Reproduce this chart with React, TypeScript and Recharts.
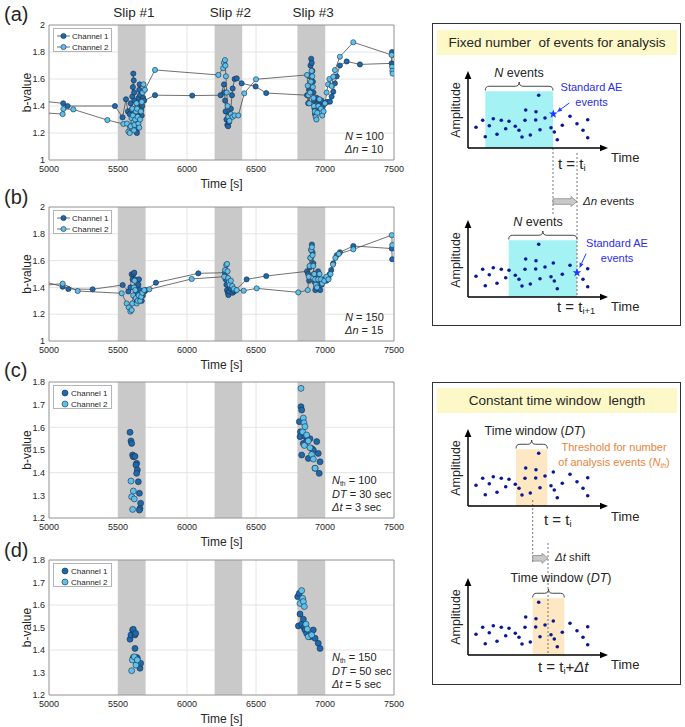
import React from "react";
import {
  CartesianGrid,
  ReferenceArea,
  ReferenceDot,
  ReferenceLine,
  Scatter,
  ScatterChart,
  XAxis,
  YAxis,
} from "recharts";

const FONT = '"Liberation Sans", Arial, Helvetica, sans-serif';
const INK = "#262626";

// ---- left panels: b-value vs time ----
const TIME_DOMAIN: [number, number] = [5000, 7500];
const TIME_TICKS = [5000, 5500, 6000, 6500, 7000, 7500];
const B_TICKS_WIDE = [1, 1.2, 1.4, 1.6, 1.8, 2];
const B_TICKS_NARROW = [1.2, 1.3, 1.4, 1.5, 1.6, 1.7, 1.8];
const SLIPS: [number, number][] = [
  [5500, 5700],
  [6200, 6400],
  [6800, 7000],
];
const SLIP_LABELS = ["Slip #1", "Slip #2", "Slip #3"];
const CHANNELS = [
  { name: "Channel 1", fill: "#1c69ad" },
  { name: "Channel 2", fill: "#5dc1ec" },
];

// (a) N = 100, Δn = 10
const A_CH1 = [
  [4960, 1.435], [5103, 1.42], [5135, 1.4], [5478, 1.4], [5533, 1.316], [5558, 1.45], [5572, 1.36],
  [5585, 1.34], [5592, 1.42], [5598, 1.37], [5604, 1.47], [5608, 1.54], [5611, 1.64], [5614, 1.59],
  [5617, 1.5], [5620, 1.44], [5623, 1.35], [5627, 1.28], [5630, 1.24], [5634, 1.21], [5637, 1.2],
  [5640, 1.26], [5644, 1.33], [5647, 1.4], [5650, 1.46], [5654, 1.52], [5657, 1.56], [5660, 1.48],
  [5664, 1.42], [5668, 1.37], [5672, 1.33], [5676, 1.4], [5682, 1.46], [5690, 1.44], [5768, 1.48],
  [6038, 1.477], [6244, 1.48], [6268, 1.56], [6272, 1.5], [6276, 1.44], [6280, 1.36], [6286, 1.3],
  [6292, 1.26], [6298, 1.25], [6304, 1.28], [6310, 1.34], [6318, 1.38], [6326, 1.48], [6331, 1.53],
  [6345, 1.6], [6360, 1.605], [6396, 1.568], [6497, 1.545], [6574, 1.496], [6870, 1.48], [6878, 1.42],
  [6884, 1.52], [6890, 1.62], [6895, 1.7], [6900, 1.75], [6904, 1.72], [6908, 1.66], [6912, 1.58],
  [6916, 1.5], [6920, 1.44], [6924, 1.38], [6928, 1.34], [6932, 1.36], [6936, 1.4], [6940, 1.46],
  [6944, 1.42], [6950, 1.38], [6958, 1.44], [6966, 1.41], [6975, 1.44], [6985, 1.4], [7000, 1.42],
  [7015, 1.43], [7036, 1.432], [7048, 1.47], [7060, 1.506], [7072, 1.568], [7085, 1.62], [7108, 1.7],
  [7157, 1.73], [7253, 1.708], [7483, 1.716], [7486, 1.8], [7488, 1.78],
];
const A_CH2 = [
  [4960, 1.35], [5099, 1.34], [5104, 1.378], [5176, 1.375], [5423, 1.296], [5539, 1.267], [5565, 1.27],
  [5575, 1.21], [5585, 1.2], [5592, 1.25], [5598, 1.31], [5604, 1.38], [5608, 1.33], [5612, 1.28],
  [5616, 1.22], [5620, 1.26], [5625, 1.3], [5630, 1.36], [5634, 1.42], [5638, 1.38], [5642, 1.32],
  [5648, 1.27], [5654, 1.24], [5660, 1.3], [5666, 1.36], [5672, 1.43], [5678, 1.5], [5685, 1.56],
  [5695, 1.52], [5768, 1.667], [6227, 1.63], [6262, 1.68], [6268, 1.72], [6275, 1.74], [6278, 1.7],
  [6282, 1.62], [6288, 1.5], [6294, 1.4], [6300, 1.32], [6308, 1.29], [6318, 1.34], [6330, 1.32],
  [6345, 1.33], [6372, 1.33], [6415, 1.494], [6500, 1.598], [6870, 1.63], [6875, 1.55], [6880, 1.48],
  [6886, 1.42], [6892, 1.5], [6898, 1.58], [6903, 1.66], [6908, 1.62], [6912, 1.54], [6916, 1.46],
  [6920, 1.4], [6926, 1.36], [6932, 1.32], [6938, 1.3], [6944, 1.35], [6952, 1.4], [6960, 1.45],
  [6970, 1.38], [6980, 1.33], [6990, 1.36], [7000, 1.42], [7012, 1.5], [7022, 1.56], [7032, 1.6],
  [7048, 1.548], [7060, 1.617], [7072, 1.666], [7108, 1.765], [7205, 1.872], [7483, 1.778],
  [7486, 1.69], [7488, 1.66], [7490, 1.64],
];

// (b) N = 150, Δn = 15
const B_CH1 = [
  [4960, 1.445], [5099, 1.405], [5140, 1.388], [5316, 1.386], [5534, 1.418], [5575, 1.37], [5590, 1.4],
  [5599, 1.498], [5606, 1.46], [5612, 1.5], [5618, 1.51], [5622, 1.46], [5626, 1.4], [5630, 1.34],
  [5634, 1.29], [5638, 1.3], [5642, 1.36], [5648, 1.42], [5652, 1.46], [5658, 1.38], [5664, 1.33],
  [5672, 1.3], [5680, 1.34], [5692, 1.37], [5703, 1.38], [5775, 1.435], [6082, 1.505], [6275, 1.51],
  [6280, 1.46], [6286, 1.42], [6290, 1.38], [6296, 1.36], [6300, 1.343], [6306, 1.37], [6312, 1.4],
  [6320, 1.39], [6330, 1.36], [6342, 1.37], [6352, 1.38], [6432, 1.46], [6574, 1.485], [6870, 1.52],
  [6878, 1.5], [6885, 1.45], [6890, 1.55], [6895, 1.62], [6900, 1.68], [6905, 1.72], [6910, 1.66],
  [6915, 1.58], [6920, 1.5], [6926, 1.44], [6930, 1.38], [6936, 1.4], [6942, 1.47], [6950, 1.52],
  [6958, 1.45], [6965, 1.38], [6975, 1.42], [6990, 1.46], [7010, 1.45], [7025, 1.47], [7035, 1.5],
  [7045, 1.53], [7060, 1.58], [7085, 1.64], [7108, 1.662], [7205, 1.709], [7484, 1.69], [7487, 1.61],
];
const B_CH2 = [
  [4960, 1.415], [5099, 1.428], [5208, 1.373], [5527, 1.356], [5563, 1.28], [5578, 1.25], [5590, 1.22],
  [5599, 1.231], [5604, 1.28], [5610, 1.34], [5616, 1.4], [5620, 1.45], [5625, 1.38], [5630, 1.32],
  [5636, 1.28], [5642, 1.3], [5650, 1.34], [5660, 1.3], [5668, 1.33], [5676, 1.36], [5690, 1.38],
  [5727, 1.386], [6034, 1.463], [6270, 1.48], [6276, 1.53], [6284, 1.567], [6290, 1.575], [6294, 1.52],
  [6298, 1.47], [6304, 1.44], [6310, 1.42], [6318, 1.45], [6328, 1.41], [6340, 1.39], [6360, 1.38],
  [6411, 1.375], [6505, 1.393], [6806, 1.363], [6875, 1.38], [6882, 1.48], [6888, 1.56], [6894, 1.62],
  [6900, 1.68], [6905, 1.7], [6910, 1.64], [6915, 1.56], [6922, 1.5], [6928, 1.46], [6934, 1.42],
  [6942, 1.4], [6950, 1.46], [6960, 1.5], [6970, 1.46], [6980, 1.43], [6995, 1.45], [7010, 1.48],
  [7025, 1.46], [7040, 1.5], [7058, 1.57], [7075, 1.62], [7100, 1.65], [7205, 1.684], [7484, 1.79],
  [7487, 1.716],
];

// (c) Nth = 100, DT = 30 s, Δt = 3 s
const C_CH1 = [
  [5587, 1.578], [5594, 1.54], [5599, 1.529], [5606, 1.478], [5611, 1.47], [5623, 1.472], [5635, 1.441],
  [5630, 1.434], [5640, 1.412], [5635, 1.397], [5647, 1.36], [5655, 1.309], [5664, 1.265], [5659, 1.242],
  [5655, 1.235], [6826, 1.691], [6831, 1.676], [6814, 1.625], [6822, 1.58], [6819, 1.559], [6831, 1.478],
  [6843, 1.529], [6855, 1.56], [6867, 1.537], [6879, 1.463], [6891, 1.55], [6903, 1.507], [6915, 1.5],
  [6928, 1.419], [6940, 1.537], [6951, 1.485], [6958, 1.397], [6964, 1.448],
];
const C_CH2 = [
  [5594, 1.363], [5599, 1.294], [5611, 1.319], [5606, 1.238], [5618, 1.284], [6826, 1.772], [6838, 1.58],
  [6843, 1.641], [6848, 1.62], [6855, 1.603], [6867, 1.566], [6879, 1.54], [6891, 1.51], [6903, 1.48],
  [6915, 1.46], [6928, 1.42], [6850, 1.52],
];

// (d) Nth = 150, DT = 50 s, Δt = 5 s
const D_CH1 = [
  [5587, 1.448], [5594, 1.467], [5606, 1.489], [5611, 1.492], [5623, 1.467], [5628, 1.474], [5623, 1.407],
  [5611, 1.367], [5635, 1.367], [5640, 1.363], [5647, 1.337], [5659, 1.319], [5664, 1.341], [6802, 1.637],
  [6814, 1.652], [6807, 1.507], [6819, 1.56], [6831, 1.515], [6843, 1.537], [6848, 1.5], [6855, 1.489],
  [6867, 1.474], [6891, 1.459], [6915, 1.489], [6928, 1.452], [6951, 1.43], [6964, 1.407],
];
const D_CH2 = [
  [5599, 1.308], [5604, 1.356], [5618, 1.37], [5630, 1.333], [5640, 1.356], [6819, 1.607], [6831, 1.664],
  [6838, 1.63], [6843, 1.615], [6850, 1.593], [6862, 1.515], [6872, 1.493], [6879, 1.459], [6903, 1.467],
];

// ---- right schematics: AE amplitude vs time (arbitrary units) ----
const AE_TIME = [
  8, 14.7, 17.3, 21.3, 25.3, 29, 33.3, 37.7, 41, 47.3, 51, 54, 57, 57.7, 62.3, 67.7, 68, 70.7, 72, 77,
  83, 85.3, 86.3, 89.3, 94.3, 102, 109, 115, 119.7, 119.7,
];
const AE_AMP = [
  20.7, 27.7, 11.3, 22.3, 29.3, 13.7, 27.7, 19.3, 26.7, 21.7, 17.7, 11, 27.7, 38, 13, 28, 36.3, 52.7,
  18.3, 30, 20.3, 34, 16, 8.3, 22.7, 31.7, 24.3, 17.7, 28.3, 10.3,
];

const toPts = (arr: number[][]) => arr.map(([t, b]) => ({ t, b }));

const marker = (fill: string, r: number) => (p: any) =>
  p.cx == null ? <g /> : <circle cx={p.cx} cy={p.cy} r={r} fill={fill} stroke="#1b2d44" strokeWidth={0.6} />;

function Txt({ x, y, a = "start", size = 12, color = INK, rot, children, style }: any) {
  const tx = a === "middle" ? "-50%" : a === "end" ? "-100%" : "0";
  return (
    <div
      style={{
        position: "absolute",
        left: x,
        top: y,
        transform: `translate(${tx},-50%)${rot ? ` rotate(${rot}deg)` : ""}`,
        fontSize: size,
        color,
        whiteSpace: "nowrap",
        lineHeight: 1,
        ...style,
      }}
    >
      {children}
    </div>
  );
}

const Sub = ({ children }: any) => (
  <sub style={{ fontSize: "0.62em", verticalAlign: "-0.3em", lineHeight: 0 }}>{children}</sub>
);

function BPanel({ tag, top, plotH, ch1, ch2, bDomain, bTicks, joined, r, notes, noteX, slipLabels }: any) {
  const H = 25 + plotH + 36;
  const series = [toPts(ch1), toPts(ch2)];
  const plotBottom = 25 + plotH;
  const px = (t: number) => 49 + ((t - 5000) / 2500) * 345;
  return (
    <div style={{ position: "absolute", left: 0, top, width: 420, height: H }}>
      <ScatterChart width={420} height={H} margin={{ top: 25, right: 26, bottom: 6, left: 0 }}>
        <CartesianGrid stroke="#e4e4e4" />
        <XAxis
          type="number"
          dataKey="t"
          domain={TIME_DOMAIN}
          ticks={TIME_TICKS}
          allowDataOverflow
          axisLine={false}
          tickLine={false}
          tickSize={2}
          tickMargin={3.5}
          height={30}
          tick={{ fontSize: 9, fill: INK }}
          label={{ value: "Time [s]", position: "insideBottom", offset: 2, fontSize: 12, fill: INK }}
        />
        <YAxis
          type="number"
          dataKey="b"
          domain={bDomain}
          ticks={bTicks}
          allowDataOverflow
          axisLine={false}
          tickLine={false}
          tickSize={2}
          tickMargin={2}
          width={49}
          tick={{ fontSize: 9, fill: INK }}
          label={{
            value: "b-value",
            angle: -90,
            position: "insideLeft",
            offset: 27,
            fontSize: 12,
            fill: INK,
            style: { textAnchor: "middle" },
          }}
        />
        {SLIPS.map(([a, b]) => (
          <ReferenceArea key={a} x1={a} x2={b} y1={bDomain[0]} y2={bDomain[1]} fill="#c9c9c9" fillOpacity={1} stroke="none" />
        ))}
        {series.map((d, i) => (
          <Scatter
            key={CHANNELS[i].name}
            name={CHANNELS[i].name}
            data={d}
            line={joined ? { stroke: "#4d4d4d", strokeWidth: 0.8 } : undefined}
            shape={marker(CHANNELS[i].fill, r)}
            isAnimationActive={false}
          />
        ))}
        <ReferenceArea
          x1={TIME_DOMAIN[0]}
          x2={TIME_DOMAIN[1]}
          y1={bDomain[0]}
          y2={bDomain[1]}
          fill="none"
          stroke="#8a8a8a"
          strokeWidth={0.8}
        />
      </ScatterChart>

      <Txt x={4} y={tag.y} size={20}>{tag.text}</Txt>
      {slipLabels &&
        SLIPS.map(([a, b], i) => (
          <Txt key={a} x={px((a + b) / 2) + 2} y={13} a="middle" size={13.5}>
            {SLIP_LABELS[i]}
          </Txt>
        ))}

      {/* legend */}
      <div
        style={{
          position: "absolute",
          left: 53,
          top: 28,
          width: 59,
          height: 24,
          background: "#fff",
          border: "1px solid #b5b5b5",
          boxSizing: "border-box",
        }}
      >
        {CHANNELS.map((c, i) => (
          <div key={c.name} style={{ position: "absolute", left: 0, top: 2 + i * 10.5, height: 10, width: 59 }}>
            <svg width={18} height={10} style={{ position: "absolute", left: 2, top: 0 }}>
              {joined && <line x1={1} x2={14} y1={5} y2={5} stroke="#4d4d4d" strokeWidth={0.8} />}
              <circle cx={joined ? 7.5 : 9} cy={5} r={joined ? 2.6 : 3} fill={c.fill} stroke="#1b2d44" strokeWidth={0.6} />
            </svg>
            <span style={{ position: "absolute", left: joined ? 18 : 17, top: 1, fontSize: 8, lineHeight: "9px", color: INK }}>
              {c.name}
            </span>
          </div>
        ))}
      </div>

      {notes.map((n: any, i: number) => (
        <Txt key={i} x={noteX} y={plotBottom - 11 - (notes.length - 1 - i) * 13.5} size={11}>
          {n}
        </Txt>
      ))}
    </div>
  );
}

// ---- schematic helpers ----
const arrowShape = (color: string, head: number, width: number) => (p: any) => {
  const { x1, y1, x2, y2 } = p;
  if (x1 == null) return <g />;
  const ang = Math.atan2(y2 - y1, x2 - x1);
  const bx = x2 - head * Math.cos(ang);
  const by = y2 - head * Math.sin(ang);
  const ox = -Math.sin(ang) * head * 0.42;
  const oy = Math.cos(ang) * head * 0.42;
  return (
    <g>
      <line x1={x1} y1={y1} x2={bx} y2={by} stroke={color} strokeWidth={width} />
      <polygon points={`${x2},${y2} ${bx + ox},${by + oy} ${bx - ox},${by - oy}`} fill={color} />
    </g>
  );
};

const blockArrow = (p: any) => {
  const { x1, y1, x2 } = p;
  if (x1 == null) return <g />;
  const hw = 6;
  const b = x2 - hw;
  return (
    <polygon
      points={`${x1},${y1 - 2.8} ${b},${y1 - 2.8} ${b},${y1 - 5} ${x2},${y1} ${b},${y1 + 5} ${b},${y1 + 2.8} ${x1},${y1 + 2.8}`}
      fill="#c9c9c9"
      stroke="#808080"
      strokeWidth={0.7}
    />
  );
};

const braceShape = (p: any) => {
  const { x, y, width: w, height: h } = p;
  if (x == null) return <g />;
  const r = Math.min(h / 2, 4);
  const m = x + w / 2;
  const mid = y + h / 2;
  const d = `M${x},${y + h} Q${x},${mid} ${x + r},${mid} L${m - r},${mid} Q${m},${mid} ${m},${y} Q${m},${mid} ${m + r},${mid} L${x + w - r},${mid} Q${x + w},${mid} ${x + w},${y + h}`;
  return <path d={d} fill="none" stroke="#333" strokeWidth={0.9} />;
};

const starShape = (p: any) => {
  const { cx, cy } = p;
  if (cx == null) return <g />;
  const pts: string[] = [];
  for (let k = 0; k < 10; k++) {
    const rr = k % 2 === 0 ? 4.6 : 1.9;
    const a = -Math.PI / 2 + (k * Math.PI) / 5;
    pts.push(`${cx + rr * Math.cos(a)},${cy + rr * Math.sin(a)}`);
  }
  return <polygon points={pts.join(" ")} fill="#1e3cff" />;
};

const aeDot = (p: any) => (p.cx == null ? <g /> : <circle cx={p.cx} cy={p.cy} r={1.8} fill="#0b1896" />);

function Schematic({ top, height, mTop, win, winFill, dashes, starIdx, starArrow, shift }: any) {
  const pts = AE_TIME.map((x, i) => ({ x, y: AE_AMP[i] })).filter((_, i) => i !== starIdx);
  const plotW = 140;
  const plotH = 77;
  return (
    <div style={{ position: "absolute", left: 440, top, width: 240, height }}>
      <ScatterChart width={240} height={height} margin={{ top: mTop, right: 240 - 28 - plotW, bottom: height - mTop - plotH, left: 28 }}>
        <XAxis type="number" dataKey="x" domain={[0, plotW]} hide />
        <YAxis type="number" dataKey="y" domain={[0, plotH]} hide />
        <ReferenceArea x1={win[0]} x2={win[1]} y1={0} y2={56.7} fill={winFill} fillOpacity={1} stroke="none" ifOverflow="visible" />
        <ReferenceArea x1={win[0]} x2={win[1]} y1={57.5} y2={66} shape={braceShape} ifOverflow="visible" />
        {dashes.map((d: any, i: number) => (
          <ReferenceLine
            key={i}
            segment={[{ x: d.x, y: d.y1 }, { x: d.x, y: d.y2 }]}
            stroke="#555"
            strokeWidth={0.8}
            strokeDasharray="2 2"
            ifOverflow="visible"
          />
        ))}
        <ReferenceLine segment={[{ x: 0, y: 0 }, { x: plotW, y: 0 }]} shape={arrowShape("#000", 8, 1.5)} ifOverflow="visible" />
        <ReferenceLine segment={[{ x: 0, y: 0 }, { x: 0, y: plotH }]} shape={arrowShape("#000", 8, 1.5)} ifOverflow="visible" />
        <Scatter data={pts} shape={aeDot} isAnimationActive={false} />
        {starIdx != null && (
          <ReferenceDot x={AE_TIME[starIdx]} y={AE_AMP[starIdx]} shape={starShape} ifOverflow="visible" />
        )}
        {starArrow && (
          <ReferenceLine
            segment={[{ x: starArrow[0], y: starArrow[1] }, { x: starArrow[2], y: starArrow[3] }]}
            shape={arrowShape("#1e3cff", 5, 1)}
            ifOverflow="visible"
          />
        )}
        {shift && (
          <ReferenceLine segment={[{ x: shift[0], y: shift[2] }, { x: shift[1], y: shift[2] }]} shape={blockArrow} ifOverflow="visible" />
        )}
      </ScatterChart>
    </div>
  );
}

const BLUE_TXT = "#2a2ee8";
const ORANGE_TXT = "#e9853c";

export default function App() {
  return (
    <div
      style={{
        position: "absolute",
        left: 0,
        top: 0,
        width: 685,
        height: 727,
        background: "#fff",
        fontFamily: FONT,
        color: INK,
        overflow: "hidden",
      }}
    >
      <BPanel
        tag={{ text: "(a)", y: 14 }}
        top={0}
        plotH={135}
        ch1={A_CH1}
        ch2={A_CH2}
        bDomain={[1, 2]}
        bTicks={B_TICKS_WIDE}
        joined
        r={2.6}
        slipLabels
        noteX={345}
        notes={[<><i>N</i> = 100</>, <><i>Δn</i> = 10</>]}
      />
      <BPanel
        tag={{ text: "(b)", y: 15 }}
        top={182}
        plotH={134}
        ch1={B_CH1}
        ch2={B_CH2}
        bDomain={[1, 2]}
        bTicks={B_TICKS_WIDE}
        joined
        r={2.6}
        noteX={345}
        notes={[<><i>N</i> = 150</>, <><i>Δn</i> = 15</>]}
      />
      <BPanel
        tag={{ text: "(c)", y: 13 }}
        top={357}
        plotH={136}
        ch1={C_CH1}
        ch2={C_CH2}
        bDomain={[1.2, 1.8]}
        bTicks={B_TICKS_NARROW}
        joined={false}
        r={3}
        noteX={332}
        notes={[
          <><i>N</i><Sub>th</Sub> = 100</>,
          <><i>DT</i> = 30 sec</>,
          <><i>Δt</i> = 3 sec</>,
        ]}
      />
      <BPanel
        tag={{ text: "(d)", y: 15 }}
        top={535}
        plotH={135}
        ch1={D_CH1}
        ch2={D_CH2}
        bDomain={[1.2, 1.8]}
        bTicks={B_TICKS_NARROW}
        joined={false}
        r={3}
        noteX={332}
        notes={[
          <><i>N</i><Sub>th</Sub> = 150</>,
          <><i>DT</i> = 50 sec</>,
          <><i>Δt</i> = 5 sec</>,
        ]}
      />

      {/* ---- box 1: fixed number of events ---- */}
      <div style={{ position: "absolute", left: 432, top: 23, width: 249, height: 303, border: "1px solid #333", boxSizing: "border-box" }} />
      <div
        style={{
          position: "absolute",
          left: 437,
          top: 30,
          width: 240,
          height: 25,
          background: "#fdf8c8",
          fontSize: 13.5,
          lineHeight: "25px",
          textAlign: "center",
          whiteSpace: "pre",
        }}
      >
        {"Fixed number  of events for analysis"}
      </div>
      <Schematic
        top={60}
        height={160}
        mTop={11}
        win={[17.3, 85]}
        winFill="#a5f2f4"
        starIdx={21}
        starArrow={[101.3, 45, 89, 36]}
        dashes={[{ x: 85, y1: 0, y2: -67 }]}
        shift={[85, 109, -53.5]}
      />
      <Schematic
        top={150}
        height={167}
        mTop={70}
        win={[40.7, 109]}
        winFill="#a5f2f4"
        starIdx={26}
        starArrow={[118, 43.3, 111.5, 29]}
        dashes={[{ x: 109, y1: 144, y2: 0 }]}
      />
      <Txt x={456} y={110} a="middle" rot={-90} size={12.5}>Amplitude</Txt>
      <Txt x={456} y={260} a="middle" rot={-90} size={12.5}>Amplitude</Txt>
      <Txt x={519} y={73} a="middle" size={12.5}><i>N</i> events</Txt>
      <Txt x={538} y={222} a="middle" size={12.5}><i>N</i> events</Txt>
      <Txt x={591.5} y={87} a="middle" size={11} color={BLUE_TXT}>Standard AE</Txt>
      <Txt x={591.5} y={101.5} a="middle" size={11} color={BLUE_TXT}>events</Txt>
      <Txt x={617} y={243} a="middle" size={11} color={BLUE_TXT}>Standard AE</Txt>
      <Txt x={617} y={257.5} a="middle" size={11} color={BLUE_TXT}>events</Txt>
      <Txt x={611} y={157} size={13}>Time</Txt>
      <Txt x={611} y={306} size={13}>Time</Txt>
      <Txt x={558} y={163} size={15}>t = t<Sub>i</Sub></Txt>
      <Txt x={557} y={306} size={15}>t = t<Sub>i+1</Sub></Txt>
      <Txt x={583} y={201.5} size={11.5}><i>Δn</i> events</Txt>

      {/* ---- box 2: constant time window ---- */}
      <div style={{ position: "absolute", left: 432, top: 382, width: 249, height: 303, border: "1px solid #333", boxSizing: "border-box" }} />
      <div
        style={{
          position: "absolute",
          left: 437,
          top: 388,
          width: 240,
          height: 25,
          background: "#fdf8c8",
          fontSize: 13.5,
          lineHeight: "25px",
          textAlign: "center",
          whiteSpace: "pre",
        }}
      >
        {"Constant time window  length"}
      </div>
      <Schematic
        top={418}
        height={152}
        mTop={11}
        win={[48, 79.3]}
        winFill="#fde8c3"
        dashes={[{ x: 64.7, y1: 6, y2: -57 }]}
        shift={[64.7, 80, -52.3]}
      />
      <Schematic
        top={540}
        height={135}
        mTop={38}
        win={[64.7, 96.3]}
        winFill="#fde8c3"
        dashes={[{ x: 80, y1: 112, y2: 0 }]}
      />
      <Txt x={456} y={468} a="middle" rot={-90} size={12.5}>Amplitude</Txt>
      <Txt x={456} y={617} a="middle" rot={-90} size={12.5}>Amplitude</Txt>
      <Txt x={535} y={431} a="middle" size={12.5}>Time window (<i>DT</i>)</Txt>
      <Txt x={561} y={578} a="middle" size={12.5}>Time window (<i>DT</i>)</Txt>
      <Txt x={614} y={447} a="middle" size={11} color={ORANGE_TXT}>Threshold for number</Txt>
      <Txt x={614} y={461.5} a="middle" size={11} color={ORANGE_TXT}>
        of analysis events (<i>N</i><Sub><i>th</i></Sub>)
      </Txt>
      <Txt x={611} y={515.5} size={13}>Time</Txt>
      <Txt x={611} y={664} size={13}>Time</Txt>
      <Txt x={544} y={519} size={15}>t = t<Sub>i</Sub></Txt>
      <Txt x={538} y={666} size={15}>t = t<Sub>i</Sub>+<i>Δt</i></Txt>
      <Txt x={555} y={558} size={11.5}><i>Δt</i> shift</Txt>
    </div>
  );
}
